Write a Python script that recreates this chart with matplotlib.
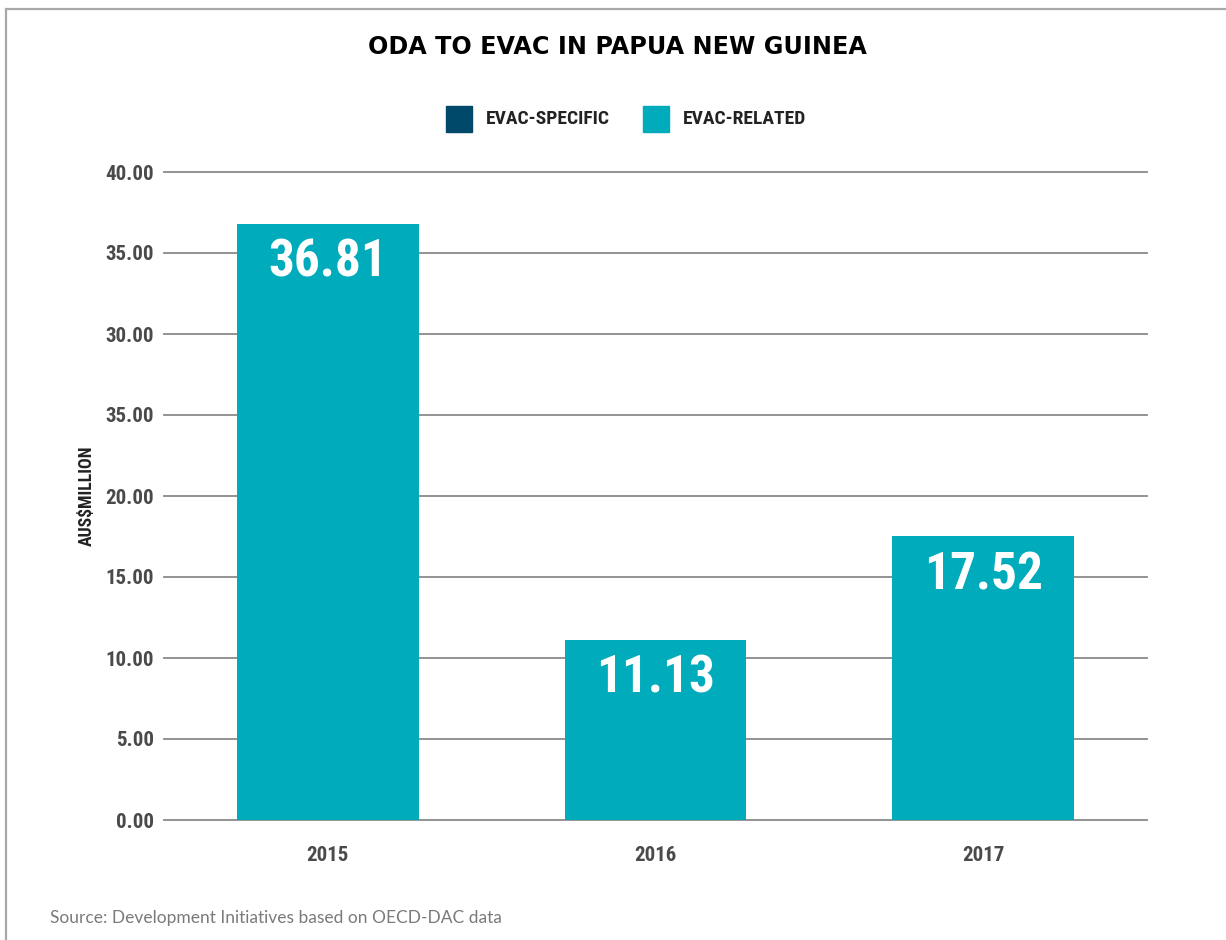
import matplotlib
matplotlib.use("Agg")
import matplotlib.pyplot as plt
from matplotlib import font_manager as fm
from matplotlib.patches import Rectangle

# data
years = ["2015", "2016", "2017"]
evac_related = [36.81, 11.13, 17.52]
evac_specific = [0.0, 0.0, 0.0]
ytick_vals = [0, 5, 10, 15, 20, 25, 30, 35, 40]
ytick_labels = ["0.00", "5.00", "10.00", "15.00", "20.00", "35.00", "30.00", "35.00", "40.00"]
series_names = ["EVAC-SPECIFIC", "EVAC-RELATED"]

C_SPEC = "#00496a"
C_REL = "#00abbb"
GRID = "#8a8a8a"
TXT = "#4a4a4a"


# look for a bold condensed face, the original uses a narrow grotesk
def condensed_font():
    prefs = ["liberationsansnarrow-bold.", "robotocondensed-bold", "dejavusanscondensed-bold.",
             "opensans_condensed-bold", "opensanscondensed-bold"]
    files = [f.fname for f in fm.fontManager.ttflist]
    for p in prefs:
        for fn in files:
            if p in fn.lower().replace(" ", ""):
                return fm.FontProperties(fname=fn), True
    for f in fm.fontManager.ttflist:
        n = f.fname.lower()
        if ("narrow" in n or "condensed" in n) and "bold" in n:
            return fm.FontProperties(fname=f.fname), True
    return fm.FontProperties(family="DejaVu Sans", weight="bold", stretch="condensed"), False


COND, found = condensed_font()
k = 1.0 if found else 0.85


def cfp(size):
    p = COND.copy()
    p.set_size(size * k)
    return p


fig = plt.figure(figsize=(12.26, 9.4), dpi=100)
ax = fig.add_axes([164 / 1226, 1 - 820 / 940, (1147 - 164) / 1226, (820 - 172) / 940])

x = range(len(years))
ax.bar(x, evac_specific, width=0.555, color=C_SPEC, zorder=3)
bars = ax.bar(x, evac_related, width=0.555, bottom=evac_specific, color=C_REL, zorder=3)

for rect, v in zip(bars, evac_related):
    ax.annotate(f"{v:.2f}", (rect.get_x() + rect.get_width() / 2, rect.get_height()),
                xytext=(0, -10), textcoords="offset points", ha="center", va="top",
                color="white", fontproperties=cfp(37), zorder=4)

ax.set_xlim(-0.5, 2.5)
ax.set_ylim(0, 40)
ax.set_yticks(ytick_vals)
ax.set_yticklabels(ytick_labels)
ax.set_xticks(list(x))
ax.set_xticklabels(years)
for lab in ax.get_xticklabels() + ax.get_yticklabels():
    lab.set_fontproperties(cfp(15))
    lab.set_color(TXT)
ax.tick_params(axis="y", length=0, pad=7)
ax.tick_params(axis="x", length=0, pad=19)
for s in ax.spines.values():
    s.set_visible(False)
for v in ytick_vals:
    ax.axhline(v, color=GRID, lw=1.3, zorder=1, clip_on=False)

ax.set_ylabel("AUS$MILLION", fontproperties=cfp(12.8), color="#222222", labelpad=7)

# title
fig.text(617 / 1226, 1 - 47 / 940, "ODA TO EVAC IN PAPUA NEW GUINEA", ha="center", va="center",
         fontsize=17.2, fontweight="bold", family=["DejaVu Sans"], color="black")

# legend
sq = 26
for i, (name, col) in enumerate(zip(series_names, [C_SPEC, C_REL])):
    x0 = [446, 643][i]
    fig.patches.append(Rectangle((x0 / 1226, 1 - 132 / 940), sq / 1226, sq / 940,
                                 transform=fig.transFigure, color=col, figure=fig))
    fig.text((x0 + 40) / 1226, 1 - 119 / 940, name, ha="left", va="center",
             fontproperties=cfp(14), color="#222222")

fig.text(50 / 1226, 1 - 918 / 940, "Source: Development Initiatives based on OECD-DAC data",
         ha="left", va="center", fontsize=12.5, family=["Lato", "DejaVu Sans"], color="#7a7a7a")

# frame
fig.patches.append(Rectangle((6 / 1226, -0.1), 1.2, 1 - 9 / 940 + 0.1, transform=fig.transFigure,
                             fill=False, edgecolor="#a8a8a8", lw=1.6, figure=fig))

fig.savefig("out.png", dpi=100, facecolor="white")
